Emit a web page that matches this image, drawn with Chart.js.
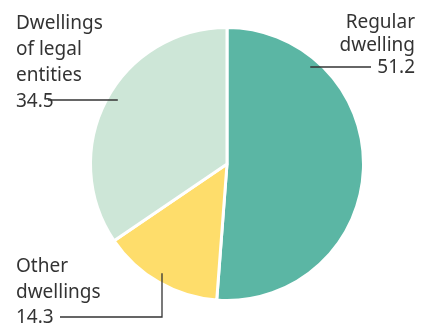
<!DOCTYPE html>
<html>
<head>
<meta charset="utf-8">
<script src="https://cdn.jsdelivr.net/npm/chart.js@4"></script>
<style>
  html, body { margin: 0; padding: 0; background: #fff; }
  #wrap { width: 428px; height: 324px; position: relative; }
</style>
</head>
<body>
<div id="wrap"><canvas id="mycanvas"></canvas></div>
<script>
// data
const categories = ["Regular dwelling", "Other dwellings", "Dwellings of legal entities"];
const shares = [51.2, 14.3, 34.5];
const colors = ["#5bb6a4", "#fedd6b", "#cde6d7"];

// label text lines, one list per slice
const labelLines = [
  ["Regular", "dwelling", "51.2"],
  ["Other", "dwellings", "14.3"],
  ["Dwellings", "of legal", "entities", "34.5"]
];

// where each label sits and how its leader line runs (layout only)
// "h": horizontal line at y from slice (x = center + fx*r) to xEnd
// "v": vertical line at x from slice (y = center + fy*r) down to yEnd, then left to xEnd
const labelLayout = [
  { x: 415, y: 28, lh: 22.6, align: "right", kind: "h", y0: 67, fx: 0.61, xEnd: 371 },
  { x: 16, y: 272, lh: 25.6, align: "left", kind: "v", x0: 162, fy: 0.80, yEnd: 317, xEnd: 60 },
  { x: 16, y: 29, lh: 25.9, align: "left", kind: "h", y0: 100, fx: -0.80, xEnd: 48 }
];

const pieLabels = {
  id: "pieLabels",
  afterDraw(chart) {
    const ctx = chart.ctx;
    const arcs = chart.getDatasetMeta(0).data;
    ctx.save();
    ctx.font = "19px 'Noto Sans', sans-serif";
    ctx.fillStyle = "#333";
    ctx.textBaseline = "alphabetic";
    labelLines.forEach((lines, i) => {
      const L = labelLayout[i];
      ctx.textAlign = L.align;
      lines.forEach((t, j) => ctx.fillText(t, L.x, L.y + j * L.lh));
      // leader line starts inside the slice
      const a = arcs[i];
      const r = a.outerRadius;
      ctx.beginPath();
      if (L.kind === "h") {
        ctx.moveTo(a.x + L.fx * r, L.y0);
        ctx.lineTo(L.xEnd, L.y0);
      } else {
        ctx.moveTo(L.x0, a.y + L.fy * r);
        ctx.lineTo(L.x0, L.yEnd);
        ctx.lineTo(L.xEnd, L.yEnd);
      }
      ctx.strokeStyle = "#333";
      ctx.lineWidth = 1.3;
      ctx.stroke();
    });
    ctx.restore();
  }
};

new Chart(document.getElementById("mycanvas").getContext("2d"), {
  type: "pie",
  data: {
    labels: categories,
    datasets: [{
      data: shares,
      backgroundColor: colors,
      borderColor: "#fff",
      borderWidth: 3
    }]
  },
  options: {
    responsive: true,
    maintainAspectRatio: false,
    animation: false,
    layout: { padding: { left: 26, right: 0, top: 26, bottom: 22 } },
    plugins: {
      legend: { display: false },
      tooltip: { enabled: false }
    }
  },
  plugins: [pieLabels]
});
</script>
</body>
</html>
